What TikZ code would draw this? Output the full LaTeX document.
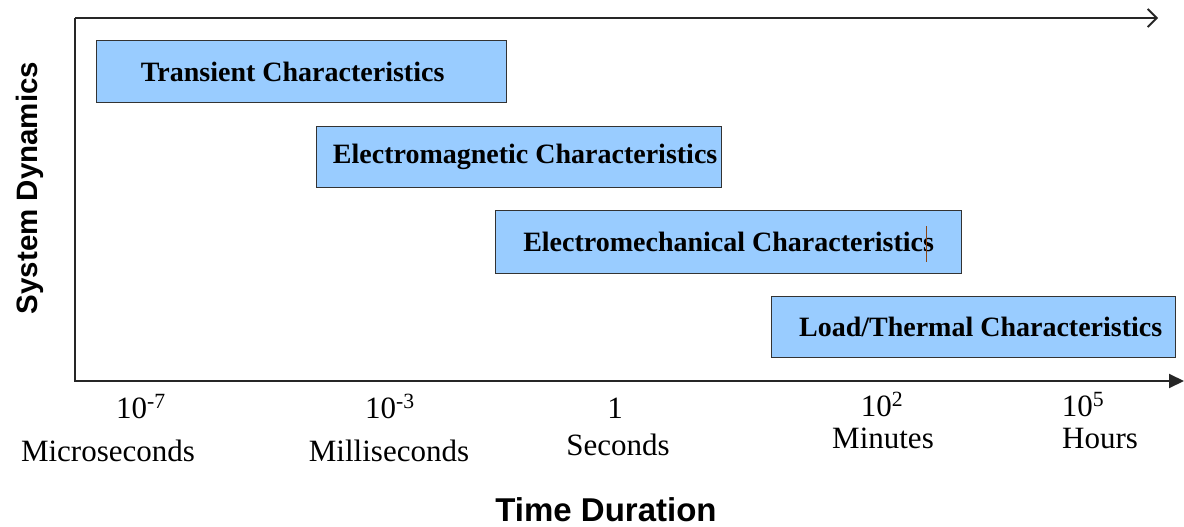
\documentclass[tikz,border=0pt]{standalone}
\usepackage{fontspec}
\setmainfont{Liberation Serif}
\newfontfamily\arialfont{Liberation Sans}
\usetikzlibrary{arrows.meta}
\definecolor{boxblue}{HTML}{99CCFF}
\definecolor{boxline}{HTML}{333333}
\definecolor{cursorcol}{HTML}{8B4513}
\begin{document}
\begin{tikzpicture}[x=1pt,y=-1pt,
  phase/.style={draw=boxline, line width=1.3pt, fill=boxblue, anchor=north west,
    inner sep=0pt},
  phasetext/.style={inner sep=0pt, font=\fontsize{28}{32}\selectfont\bfseries},
  axisline/.style={draw=black!85, line width=2pt},
  ticklab/.style={anchor=base, inner sep=0pt, font=\fontsize{31}{36}\selectfont},
  titlelab/.style={inner sep=0pt, font=\fontsize{33}{38}\selectfont\arialfont\bfseries}
]
\useasboundingbox (0,0) rectangle (1184,527);

% axes
\coordinate (tl) at (75,18);
\coordinate (te) at (1158,18);
\coordinate (corner) at (75,381);
\coordinate (be) at (1184,381);
\draw[axisline, -{Straight Barb[length=9pt,width=18pt,line width=1.8pt]}] (tl) -- (te);
\draw[axisline, -{Triangle[length=15pt,width=14pt]}] (tl) -- (corner) -- (be);

% phase boxes
\node[phase, minimum width=410pt, minimum height=62pt] (tr) at (96,40) {};
\node[phase, minimum width=405pt, minimum height=61pt] (em) at (316,126) {};
\node[phase, minimum width=466pt, minimum height=63pt] (emech) at (495,210) {};
\node[phase, minimum width=404pt, minimum height=61pt] (lt) at (771,296) {};
\node[phasetext, xshift=-9pt] (trt) at (tr.center) {Transient Characteristics};
\node[phasetext, xshift=6pt] (emt) at (em.center) {Electromagnetic Characteristics};
\node[phasetext] (emecht) at (emech.center) {Electromechanical Characteristics};
\node[phasetext, xshift=7pt] (ltt) at (lt.center) {Load/Thermal Characteristics};

% cursor mark
\coordinate (cur1) at (926,226);
\coordinate (cur2) at (926,262);
\draw[cursorcol, line width=0.8pt] (cur1) -- (cur2);

% tick labels
\node[ticklab] (n1) at (141,418) {10\textsuperscript{-7}};
\node[ticklab] (u1) at (108,461) {Microseconds};
\node[ticklab] (n2) at (390,418) {10\textsuperscript{-3}};
\node[ticklab] (u2) at (389,461) {Milliseconds};
\node[ticklab] (n3) at (615,418) {1};
\node[ticklab] (u3) at (618,455) {Seconds};
\node[ticklab] (n4) at (882,416) {10\textsuperscript{2}};
\node[ticklab] (u4) at (883,448) {Minutes};
\node[ticklab] (n5) at (1083,416) {10\textsuperscript{5}};
\node[ticklab] (u5) at (1100,448) {Hours};

% axis titles
\node[titlelab, anchor=base] (xt) at (606,521) {Time Duration};
\node[titlelab, anchor=base, rotate=90, font=\fontsize{29.5}{34}\selectfont\arialfont\bfseries] (yt) at (37,188) {System Dynamics};
\end{tikzpicture}
\end{document}
